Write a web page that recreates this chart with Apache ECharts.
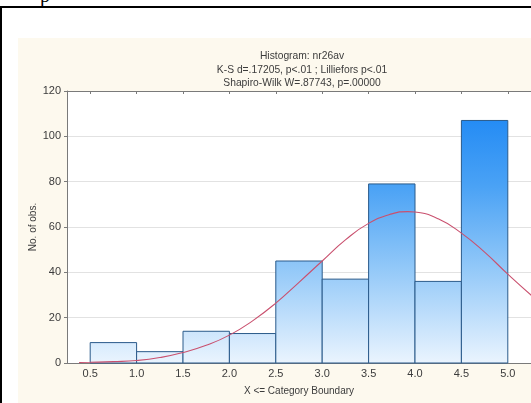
<!DOCTYPE html>
<html>
<head>
<meta charset="utf-8">
<script src="https://cdn.jsdelivr.net/npm/echarts@6/dist/echarts.min.js"></script>
<style>
  html, body { margin: 0; padding: 0; background: #ffffff; }
  #page { position: relative; width: 531px; height: 403px; overflow: hidden; background: #ffffff; }
  #frameTop { position: absolute; left: 0; top: 6px; width: 531px; height: 2px; background: #000; }
  #frameLeft { position: absolute; left: 0; top: 6px; width: 2px; height: 397px; background: #000; }
  #capText { position: absolute; left: 40px; top: -16px; font: 20px "Liberation Serif", serif; color: #000; }
  #panel { position: absolute; left: 18px; top: 38px; width: 520px; height: 370px; background: #fdf9ee; }
  #chart { position: absolute; left: 0; top: 0; width: 531px; height: 403px; }
</style>
</head>
<body>
<div id="page">
  <div id="capText">p</div>
  <div id="frameTop"></div>
  <div id="frameLeft"></div>
  <div id="panel"></div>
  <div id="chart"></div>
</div>
<script>
// Histogram bins (upper boundaries, X <= boundary) and observed counts
const binLower = [0.5, 1.0, 1.5, 2.0, 2.5, 3.0, 3.5, 4.0, 4.5];
const binUpper = [1.0, 1.5, 2.0, 2.5, 3.0, 3.5, 4.0, 4.5, 5.0];
const counts   = [9, 5, 14, 13, 45, 37, 79, 36, 107];

// Expected normal curve (count scale)
const curveX = [0.38, 0.5, 0.75, 1.0, 1.25, 1.5, 1.75, 2.0, 2.25, 2.5, 2.75, 3.0, 3.25, 3.5, 3.75, 3.92, 4.0, 4.25, 4.5, 4.75, 5.0, 5.25, 5.4];
const curveY = [0.2, 0.3, 0.6, 1.1, 2.4, 4.6, 7.8, 12.3, 18.6, 26.4, 35.6, 45.0, 54.3, 61.6, 65.8, 66.8, 66.6, 63.6, 57.3, 48.9, 39.2, 30.0, 25.0];

// Axis tick labels
const xTicks = ['0.5', '1.0', '1.5', '2.0', '2.5', '3.0', '3.5', '4.0', '4.5', '5.0'];
const yTicks = [0, 20, 40, 60, 80, 100, 120];

const titleLines = [
  'Histogram: nr26av',
  'K-S d=.17205, p<.01 ; Lilliefors p<.01',
  'Shapiro-Wilk W=.87743, p=.00000'
];

const xTickValues = xTicks.map(Number);
const textColor = '#3c3c3c';
const font = 'Liberation Sans, Arial, sans-serif';

const chart = echarts.init(document.getElementById('chart'), null, { renderer: 'canvas' });

const histData = counts.map((c, i) => [binLower[i], binUpper[i], c]);
const curveData = curveX.map((x, i) => [x, curveY[i]]);

chart.setOption({
  backgroundColor: 'transparent',
  animation: false,
  title: {
    text: titleLines.join('\n'),
    left: 297,
    top: 45,
    textAlign: 'center',
    textStyle: { fontFamily: font, fontSize: 10.3, fontWeight: 'normal', color: textColor, lineHeight: 13.3 }
  },
  grid: {
    left: 67, top: 91, width: 473, height: 272,
    show: true, backgroundColor: '#ffffff', borderWidth: 0
  },
  xAxis: [{
    type: 'value', min: 0.25, max: 5.25, position: 'bottom',
    name: 'X <= Category Boundary', nameLocation: 'middle', nameGap: 23,
    nameTextStyle: { fontFamily: font, fontSize: 10, color: textColor },
    axisLine: { show: true, onZero: false, lineStyle: { color: '#7a7a7a', width: 1 } },
    axisTick: { show: false },
    splitLine: { show: false },
    axisLabel: {
      customValues: xTickValues, margin: 5,
      fontFamily: font, fontSize: 11, color: textColor,
      formatter: v => v.toFixed(1)
    }
  }, {
    type: 'value', min: 0.25, max: 5.25, position: 'top',
    axisLine: { show: true, onZero: false, lineStyle: { color: '#7a7a7a', width: 1 } },
    axisTick: { show: true, inside: true, length: 3, customValues: xTickValues, lineStyle: { color: '#7a7a7a' } },
    axisLabel: { show: false },
    splitLine: { show: false }
  }],
  yAxis: [{
    type: 'value', min: 0, max: 120, interval: 20,
    name: 'No. of obs.', nameLocation: 'middle', nameGap: 29, nameMoveOverlap: false,
    nameTextStyle: { fontFamily: font, fontSize: 10, color: textColor },
    axisLine: { show: true, lineStyle: { color: '#7a7a7a', width: 1 } },
    axisTick: { show: true, length: 3, lineStyle: { color: '#7a7a7a' } },
    splitLine: { show: true, lineStyle: { color: '#e2e2e2', width: 1 } },
    axisLabel: {
      margin: 6, fontFamily: font, fontSize: 11, color: textColor,
      formatter: v => yTicks.includes(v) ? String(v) : ''
    }
  }],
  series: [{
    type: 'custom',
    xAxisIndex: 0,
    data: histData,
    encode: { x: [0, 1], y: 2 },
    renderItem: function (params, api) {
      const topLeft = api.coord([api.value(0), api.value(2)]);
      const bottomRight = api.coord([api.value(1), 0]);
      const yTop = api.coord([0, 120])[1];
      const yBottom = api.coord([0, 0])[1];
      return {
        type: 'rect',
        shape: {
          x: topLeft[0], y: topLeft[1],
          width: bottomRight[0] - topLeft[0],
          height: bottomRight[1] - topLeft[1]
        },
        style: {
          fill: new echarts.graphic.LinearGradient(0, yTop, 0, yBottom, [
            { offset: 0, color: '#1482f4' },
            { offset: 0.35, color: '#4aa2f5' },
            { offset: 0.65, color: '#92c8f8' },
            { offset: 1, color: '#eaf4fe' }
          ], true),
          stroke: '#2a5a8a',
          lineWidth: 1
        }
      };
    },
    z: 2
  }, {
    type: 'line',
    xAxisIndex: 0,
    data: curveData,
    smooth: true,
    showSymbol: false,
    clip: true,
    lineStyle: { color: '#c9506e', width: 1.1 },
    z: 3
  }]
});
</script>
</body>
</html>
